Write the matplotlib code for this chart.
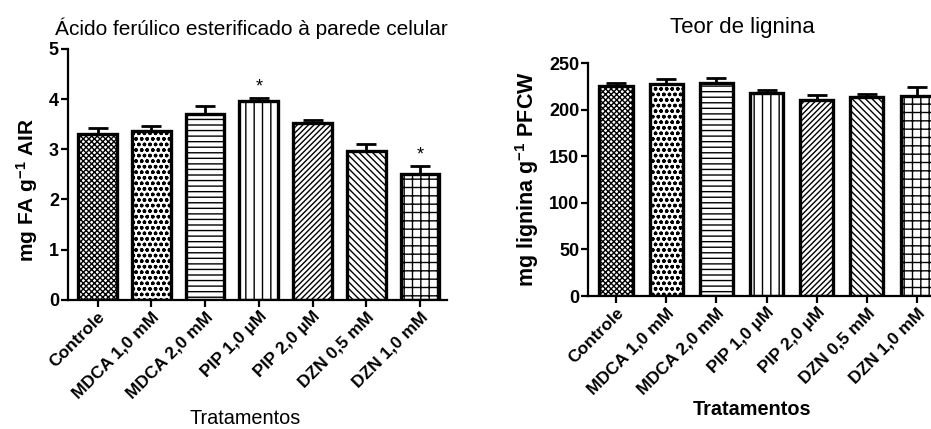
import matplotlib
matplotlib.use("Agg")
import matplotlib.pyplot as plt

plt.rcParams['font.family'] = ['Liberation Sans', 'DejaVu Sans']
plt.rcParams['mathtext.fontset'] = 'custom'
plt.rcParams['mathtext.rm'] = 'Liberation Sans'
plt.rcParams['mathtext.bf'] = 'Liberation Sans:bold'
plt.rcParams['mathtext.default'] = 'bf'
plt.rcParams['hatch.linewidth'] = 1.0

tratamentos = ["Controle", "MDCA 1,0 mM", "MDCA 2,0 mM", "PIP 1,0 µM",
               "PIP 2,0 µM", "DZN 0,5 mM", "DZN 1,0 mM"]
hatches = ["xxxxxx", "ooo", "---", "||", "//////", "\\\\\\\\\\", "++"]

fa_media = [3.31, 3.36, 3.70, 3.96, 3.53, 2.96, 2.50]
fa_erro = [0.12, 0.10, 0.17, 0.07, 0.05, 0.14, 0.16]
fa_signif = [False, False, False, True, False, False, True]

lig_media = [225, 228, 229, 218, 210, 214, 215]
lig_erro = [4, 5, 5, 3, 6, 3, 9]


def painel(ax, medias, erros, largura, ylim, yticks, ylabel, ylab_size):
    x = list(range(len(medias)))
    bars = ax.bar(x, medias, width=largura, color='white', edgecolor='black',
                  linewidth=2.4, zorder=2)
    for b, h in zip(bars, hatches):
        b.set_hatch(h)
    ax.errorbar(x, medias, yerr=[[0] * len(erros), erros], fmt='none',
                ecolor='black', elinewidth=2, capsize=7, capthick=2, zorder=3)
    ax.set_xlim(-0.55, len(medias) - 0.5)
    ax.set_ylim(*ylim)
    ax.set_yticks(yticks)
    ax.set_xticks(x)
    ax.set_xticklabels(tratamentos, rotation=45, ha='right',
                       rotation_mode='anchor', fontsize=12.5, fontweight='bold')
    for lab in ax.get_yticklabels():
        lab.set_fontweight('bold')
        lab.set_fontsize(13)
    ax.spines['top'].set_visible(False)
    ax.spines['right'].set_visible(False)
    ax.spines['left'].set_linewidth(1.6)
    ax.spines['bottom'].set_linewidth(1.6)
    ax.tick_params(axis='both', width=1.6, length=5, pad=1.5)
    ax.set_ylabel(ylabel, fontsize=ylab_size, fontweight='bold')


fig = plt.figure(figsize=(9.31, 4.29), dpi=100)

ax1 = fig.add_axes([0.073, 0.301, 0.407, 0.585])
painel(ax1, fa_media, fa_erro, 0.72, (0, 5), [0, 1, 2, 3, 4, 5],
       r'mg FA g$^{-1}$ AIR', 15)
for i, s in enumerate(fa_signif):
    if s:
        ax1.text(i, fa_media[i] + fa_erro[i] + 0.05, '*', ha='center',
                 va='bottom', fontsize=13)
ax1.yaxis.set_label_coords(-0.075, 0.44)
fig.text(0.27, 0.935, 'Ácido ferúlico esterificado à parede celular',
         ha='center', va='center', fontsize=15)
fig.text(0.263, 0.025, 'Tratamentos', ha='center', va='center', fontsize=14.3)

ax2 = fig.add_axes([0.632, 0.310, 0.380, 0.543])
painel(ax2, lig_media, lig_erro, 0.66, (0, 250), [0, 50, 100, 150, 200, 250],
       r'mg lignina g$^{-1}$ PFCW', 15.5)
ax2.yaxis.set_label_coords(-0.135, 0.5)
fig.text(0.797, 0.935, 'Teor de lignina', ha='center', va='center',
         fontsize=16)
fig.text(0.808, 0.045, 'Tratamentos', ha='center', va='center', fontsize=14.3,
         fontweight='bold')

fig.savefig('out.png', dpi=100)
